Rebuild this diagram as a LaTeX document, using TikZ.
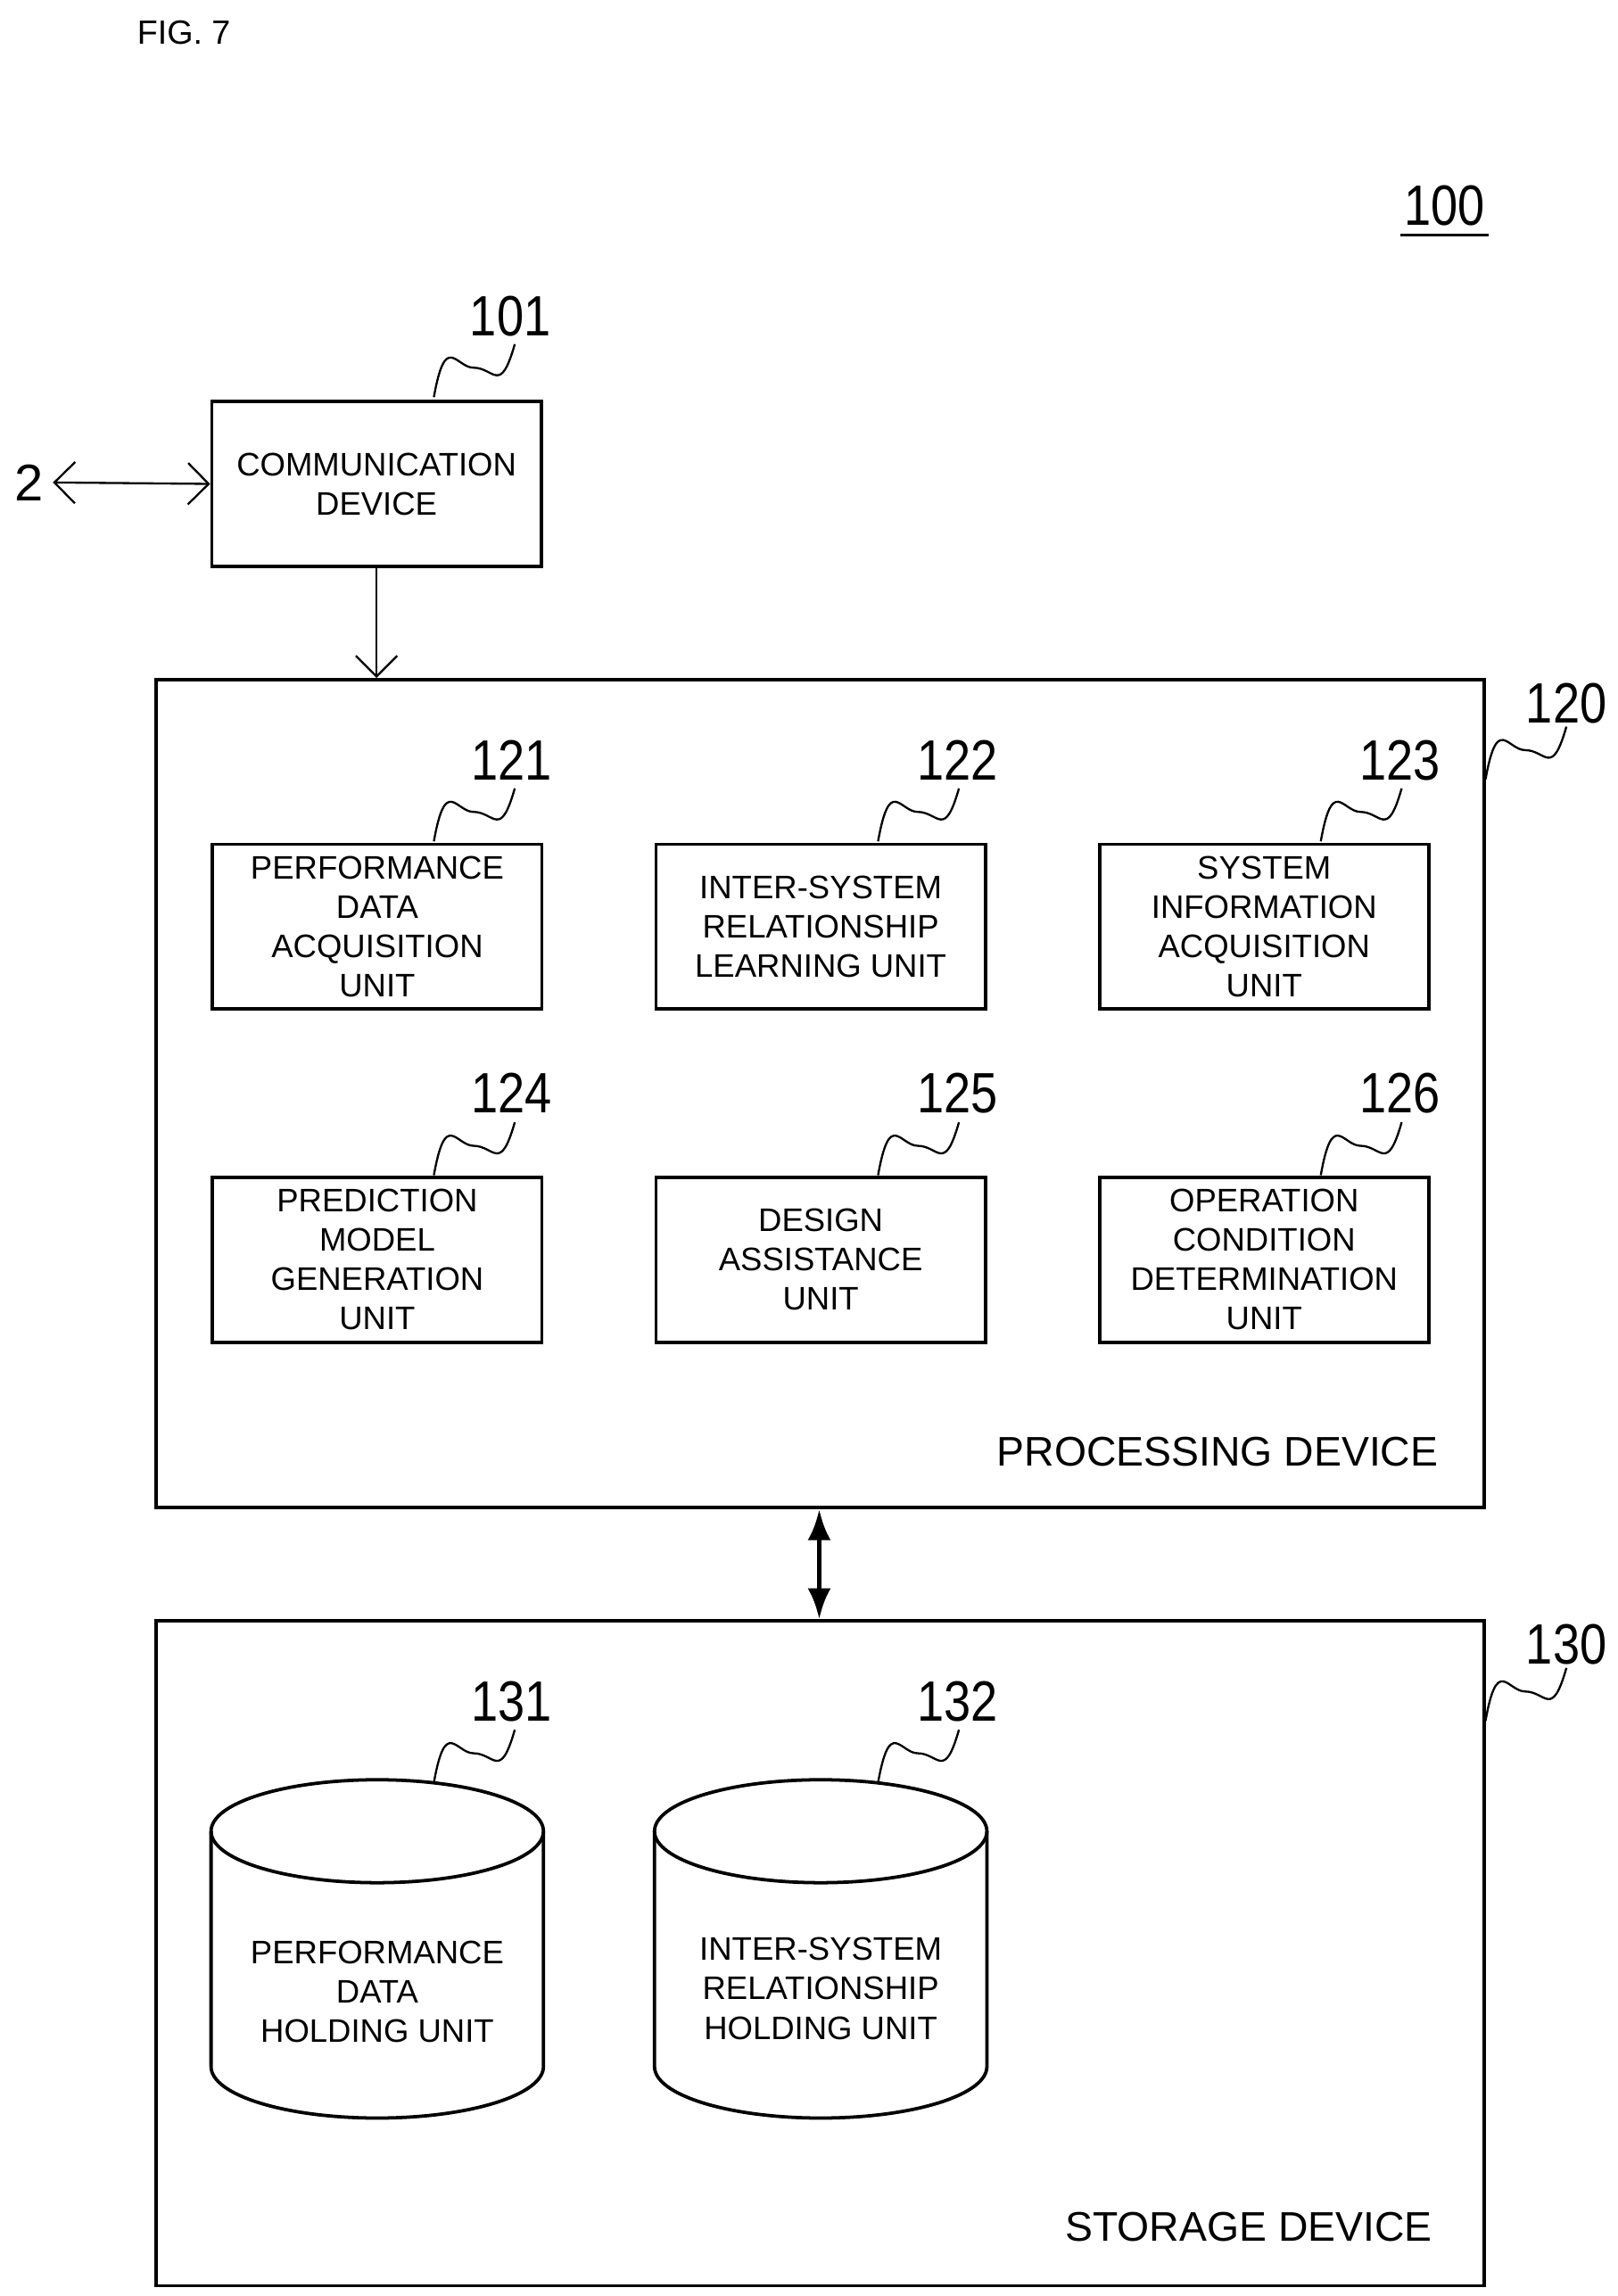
\documentclass[tikz,border=0pt]{standalone}
\usepackage{fontspec}
\setmainfont{Liberation Sans}
\usetikzlibrary{arrows.meta,positioning}
\tikzset{
  unit/.style={draw, line width=1.3pt, minimum width=4.48cm, minimum height=2.24cm, align=center, inner sep=1pt, font=\fontsize{12.6}{15.2}\selectfont},
  lbl/.style={font=\fontsize{22}{24}\selectfont, xscale=0.85},
  txt/.style={align=center, font=\fontsize{12.6}{15.2}\selectfont},
}
\newcommand{\wave}[1]{\draw[line width=0.8pt] (#1) .. controls +(8,-45) and +(-12,0) .. ++(27,-20) .. controls +(14,0) and +(-10,35) .. ++(28,-16);}
\begin{document}
\begin{tikzpicture}[x=0.02cm, y=-0.02cm]
    \useasboundingbox (0,0) rectangle (1100,1561);
    \node[font=\fontsize{13}{15}\selectfont] (fig) at (125,22) {FIG. 7};

    % overall reference
    \node[lbl] (n100) at (982,140) {100};
    \draw[line width=1pt] (952,160) -- (1012,160);

    % communication device
    \node[unit] (comm) at (256,329) {COMMUNICATION\\DEVICE};
    \node[lbl] (n101) at (347,215) {101};
    \wave{295,270}
    \node[font=\fontsize{20}{22}\selectfont] (two) at (20,328) {2};
    \draw[{Straight Barb[length=8pt]}-{Straight Barb[length=8pt]}, line width=0.8pt] (two.east) -- (comm.west);

    % processing device
    \node[draw, line width=1.3pt, minimum width=18.06cm, minimum height=11.26cm] (proc) at (557.5,743.5) {};
    \node[font=\fontsize{16}{18}\selectfont, anchor=east] (proclbl) at (984,987) {PROCESSING DEVICE};
    \node[lbl] (n120) at (1065,478) {120};
    \wave{1010,530}
    \draw[-{Straight Barb[length=8pt]}, line width=0.8pt] (comm.south) -- (comm.south |- proc.north);

    % units
    \node[unit] (u121) at (256.5,630) {PERFORMANCE\\DATA\\ACQUISITION\\UNIT};
    \node[unit] (u122) at (558,630) {INTER-SYSTEM\\RELATIONSHIP\\LEARNING UNIT};
    \node[unit] (u123) at (859.5,630) {SYSTEM\\INFORMATION\\ACQUISITION\\UNIT};
    \node[unit] (u124) at (256.5,856.5) {PREDICTION\\MODEL\\GENERATION\\UNIT};
    \node[unit] (u125) at (558,856.5) {DESIGN\\ASSISTANCE\\UNIT};
    \node[unit] (u126) at (859.5,856.5) {OPERATION\\CONDITION\\DETERMINATION\\UNIT};
    \node[lbl] (n121) at (348,517) {121};
    \node[lbl] (n122) at (651,517) {122};
    \node[lbl] (n123) at (952,517) {123};
    \node[lbl] (n124) at (348,743) {124};
    \node[lbl] (n125) at (651,743) {125};
    \node[lbl] (n126) at (952,743) {126};
    \wave{295,572}
    \wave{597,572}
    \wave{898,572}
    \wave{295,799}
    \wave{597,799}
    \wave{898,799}

    % storage device
    \node[draw, line width=1.3pt, minimum width=18.06cm, minimum height=9.04cm] (stor) at (557.5,1328) {};
    \node[font=\fontsize{16}{18}\selectfont, anchor=east] (storlbl) at (980,1514) {STORAGE DEVICE};
    \node[lbl] (n130) at (1065,1118) {130};
    \wave{1010,1170}
    \draw[{Latex[length=12pt,width=9pt]}-{Latex[length=12pt,width=9pt]}, line width=2pt] (proc.south -| 557,0) -- (stor.north -| 557,0);

    % holding units
    \foreach \cx in {256.5,558} {
        \draw[line width=1.3pt] (\cx-113,1245) -- (\cx-113,1405) arc[start angle=180, end angle=360, x radius=113, y radius=-35] -- (\cx+113,1245);
        \draw[line width=1.3pt] (\cx,1245) ellipse[x radius=113, y radius=35];
    }
    \node[txt] (h131) at (256.5,1354) {PERFORMANCE\\DATA\\HOLDING UNIT};
    \node[txt] (h132) at (558,1352) {INTER-SYSTEM\\RELATIONSHIP\\HOLDING UNIT};
    \node[lbl] (n131) at (348,1157) {131};
    \node[lbl] (n132) at (651,1157) {132};
    \wave{295,1212}
    \wave{597,1212}
\end{tikzpicture}
\end{document}
